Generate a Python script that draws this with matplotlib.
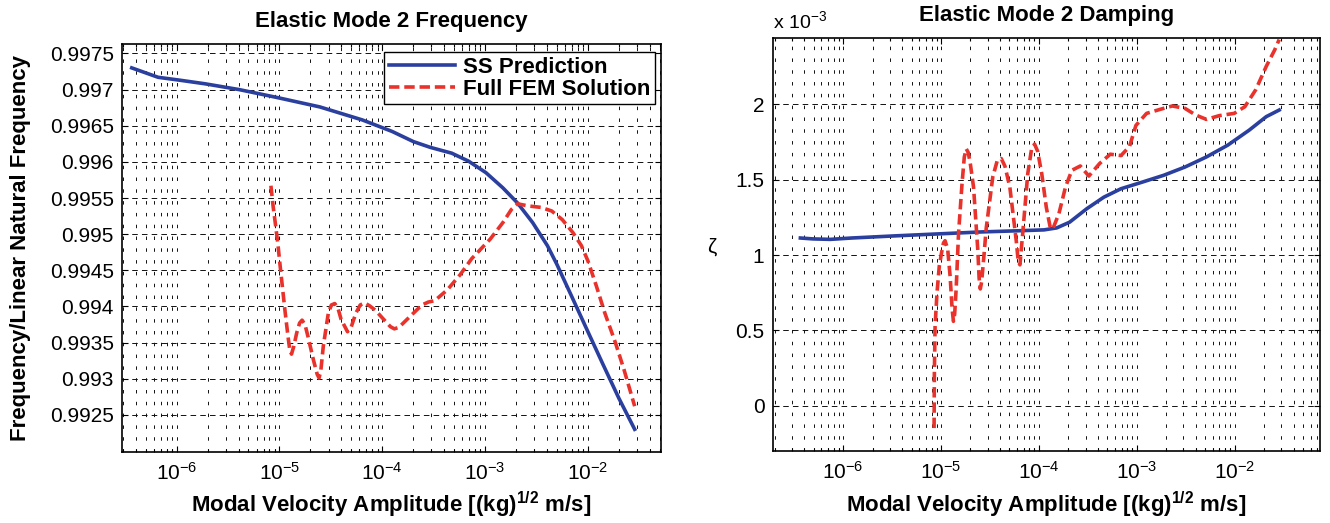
import matplotlib
matplotlib.use("Agg")
import matplotlib.pyplot as plt
from matplotlib.ticker import LogLocator, NullFormatter, FixedLocator, FuncFormatter

plt.rcParams['font.family'] = ['Liberation Sans', 'DejaVu Sans']
plt.rcParams['mathtext.fontset'] = 'custom'
plt.rcParams['mathtext.rm'] = 'Liberation Sans'
plt.rcParams['mathtext.it'] = 'Liberation Sans:italic'
plt.rcParams['mathtext.bf'] = 'Liberation Sans:bold'
plt.rcParams['lines.scale_dashes'] = False

# ---- data ----
# left panel: frequency ratio
ss_freq_x = [3.66e-7, 6.6e-7, 1.07e-6, 1.89e-6, 4.05e-6, 9.5e-6, 2.47e-5, 6.4e-5,
             1.25e-4, 2.01e-4, 2.94e-4, 4.74e-4, 6.9e-4, 1.02e-3, 1.49e-3, 2.07e-3,
             2.9e-3, 4.04e-3, 5.0e-3, 7.0e-3, 1.0e-2, 1.4e-2, 2.0e-2, 2.85e-2]
ss_freq_y = [0.99730, 0.99717, 0.99713, 0.99708, 0.99700, 0.99689, 0.99676, 0.99658,
             0.99642, 0.99628, 0.99620, 0.99612, 0.99601, 0.99585, 0.99564, 0.99543,
             0.99516, 0.99484, 0.99458, 0.99413, 0.99365, 0.99320, 0.99273, 0.99230]

fem_freq_x = [8.26e-6, 8.67e-6, 9.1e-6, 9.7e-6, 1.0e-5, 1.05e-5, 1.13e-5, 1.21e-5,
              1.26e-5, 1.31e-5, 1.38e-5, 1.47e-5, 1.57e-5, 1.66e-5, 1.77e-5, 1.89e-5,
              2.14e-5, 2.33e-5, 2.43e-5, 2.53e-5, 2.67e-5, 2.99e-5, 3.2e-5, 3.45e-5,
              3.7e-5, 3.98e-5, 4.59e-5, 5.0e-5, 5.55e-5, 6.1e-5, 6.72e-5, 7.5e-5,
              8.53e-5, 1.08e-4, 1.2e-4, 1.31e-4, 1.45e-4, 1.74e-4, 2.43e-4, 2.8e-4,
              3.24e-4, 4.3e-4, 5.73e-4, 7.4e-4, 1.12e-3, 1.49e-3, 1.8e-3, 2.07e-3,
              2.63e-3, 3.5e-3, 4.45e-3, 5.64e-3, 7.16e-3, 8.65e-3, 1.0e-2, 1.21e-2,
              1.46e-2, 1.86e-2, 2.25e-2, 2.85e-2]
fem_freq_y = [0.99567, 0.99539, 0.99516, 0.99484, 0.99465, 0.99437, 0.99395, 0.99359,
              0.99340, 0.99334, 0.99345, 0.99363, 0.99377, 0.99381, 0.99375, 0.99359,
              0.99326, 0.99306, 0.99301, 0.99312, 0.99345, 0.99391, 0.99402, 0.99404,
              0.99398, 0.99382, 0.99365, 0.99372, 0.99391, 0.99402, 0.99405, 0.99401,
              0.99395, 0.99379, 0.99372, 0.99369, 0.99371, 0.99382, 0.99402, 0.99406,
              0.99408, 0.99423, 0.99444, 0.99466, 0.99493, 0.99516, 0.99534, 0.99542,
              0.99539, 0.99537, 0.99532, 0.99520, 0.99502, 0.99484, 0.99463, 0.99428,
              0.99391, 0.99349, 0.99312, 0.99262]

# right panel: damping ratio (x 10^-3)
ss_damp_x = [3.66e-7, 4.94e-7, 7.4e-7, 1.22e-6, 3.34e-6, 9.14e-6, 2.5e-5, 6.8e-5,
             1.13e-4, 1.52e-4, 2.06e-4, 3.08e-4, 4.61e-4, 6.9e-4, 1.14e-3, 1.88e-3,
             3.11e-3, 5.15e-3, 8.5e-3, 1.41e-2, 2.1e-2, 2.85e-2]
ss_damp_y = [1.113, 1.107, 1.104, 1.113, 1.127, 1.140, 1.153, 1.162,
             1.167, 1.180, 1.218, 1.307, 1.384, 1.440, 1.484, 1.529,
             1.584, 1.651, 1.729, 1.829, 1.918, 1.962]

fem_damp_x = [8.5e-6, 8.55e-6, 8.7e-6, 9.1e-6, 9.6e-6, 1.01e-5, 1.06e-5, 1.1e-5,
              1.17e-5, 1.24e-5, 1.3e-5, 1.34e-5, 1.38e-5, 1.43e-5, 1.51e-5, 1.64e-5,
              1.73e-5, 1.81e-5, 1.9e-5, 2.0e-5, 2.15e-5, 2.38e-5, 2.45e-5, 2.52e-5,
              2.6e-5, 2.75e-5, 2.9e-5, 3.38e-5, 3.75e-5, 4.13e-5, 4.5e-5, 5.05e-5,
              5.87e-5, 6.15e-5, 6.4e-5, 6.83e-5, 7.7e-5, 8.4e-5, 9.03e-5, 9.7e-5,
              1.07e-4, 1.19e-4, 1.3e-4, 1.38e-4, 1.6e-4, 1.87e-4, 2.17e-4, 2.65e-4,
              3.24e-4, 4.17e-4, 5.36e-4, 6.9e-4, 8.43e-4, 9.8e-4, 1.26e-3, 1.7e-3,
              2.3e-3, 3.11e-3, 4.0e-3, 5.15e-3, 6.97e-3, 9.9e-3, 1.27e-2, 1.64e-2,
              2.1e-2, 2.57e-2, 2.85e-2]
fem_damp_y = [-0.148, 0.195, 0.527, 0.748, 0.925, 1.010, 1.080, 1.095,
              1.040, 0.858, 0.640, 0.560, 0.610, 0.780, 1.140, 1.473,
              1.650, 1.705, 1.680, 1.600, 1.451, 1.029, 0.850, 0.775,
              0.820, 1.000, 1.180, 1.518, 1.625, 1.640, 1.590, 1.451,
              1.096, 0.960, 0.935, 1.140, 1.540, 1.700, 1.736, 1.690,
              1.540, 1.318, 1.190, 1.170, 1.273, 1.451, 1.562, 1.591,
              1.524, 1.607, 1.669, 1.660, 1.720, 1.860, 1.940, 1.965,
              1.989, 1.973, 1.929, 1.900, 1.925, 1.940, 1.984, 2.096,
              2.251, 2.362, 2.430]

freq_ticks = [0.9925, 0.993, 0.9935, 0.994, 0.9945, 0.995, 0.9955, 0.996, 0.9965, 0.997, 0.9975]
damp_ticks = [0, 0.5, 1, 1.5, 2]

blue = '#2b3f9e'
red = '#e8322b'
xlabel = r'Modal Velocity Amplitude [(kg)$^{\mathbf{1/2}}$ m/s]'

fig = plt.figure(figsize=(13.3, 5.23), dpi=100)
ax1 = fig.add_axes([0.0917, 0.1363, 0.4053, 0.7795])
ax2 = fig.add_axes([0.581, 0.1377, 0.4115, 0.7902])


def style_axes(ax):
    ax.set_xscale('log')
    ax.xaxis.set_major_locator(LogLocator(base=10))
    ax.xaxis.set_minor_locator(LogLocator(base=10, subs=range(2, 10), numticks=50))
    ax.xaxis.set_minor_formatter(NullFormatter())
    ax.tick_params(which='both', direction='in', top=True, right=True,
                   labelsize=15, width=0.8, color='black')
    ax.tick_params(which='major', length=4)
    ax.tick_params(which='minor', length=2.5)
    ax.tick_params(axis='x', pad=7)
    ax.tick_params(axis='y', pad=6)
    for s in ax.spines.values():
        s.set_linewidth(1.2)
    ax.grid(True, which='both', axis='x', color='#111111', lw=0.7, ls=(0, (2.5, 6)))
    ax.grid(True, which='major', axis='y', color='#111111', lw=0.7, ls=(0, (4, 3)))
    ax.set_axisbelow(True)
    ax.set_xlabel(xlabel, fontsize=16, fontweight='bold', labelpad=5)


style_axes(ax1)
ax1.plot(ss_freq_x, ss_freq_y, color=blue, lw=2.6, label='SS Prediction')
ax1.plot(fem_freq_x, fem_freq_y, color=red, lw=2.6, dashes=(7.5, 3.5), label='Full FEM Solution')
ax1.set_xlim(2.94e-7, 5.14e-2)
ax1.set_ylim(0.99199, 0.99763)
ax1.yaxis.set_major_locator(FixedLocator(freq_ticks))
ax1.yaxis.set_major_formatter(FuncFormatter(lambda v, p: '%g' % round(v, 4)))
ax1.set_title('Elastic Mode 2 Frequency', fontsize=16, fontweight='bold', pad=12)
ax1.set_ylabel('Frequency/Linear Natural Frequency', fontsize=16, fontweight='bold')
ax1.yaxis.set_label_coords(-0.168, 0.5)
leg = ax1.legend(loc='upper right', bbox_to_anchor=(0.989, 0.98), borderaxespad=0,
                 prop={'size': 16, 'weight': 'bold'}, handlelength=3.0, handletextpad=0.35,
                 labelspacing=0.05, borderpad=0.2, fancybox=False, framealpha=1)
leg.get_frame().set_edgecolor('black')
leg.get_frame().set_linewidth(1.0)

style_axes(ax2)
ax2.plot(ss_damp_x, ss_damp_y, color=blue, lw=2.6)
ax2.plot(fem_damp_x, fem_damp_y, color=red, lw=2.6, dashes=(7.5, 3.5))
ax2.set_xlim(1.91e-7, 7.45e-2)
ax2.set_ylim(-0.30, 2.442)
ax2.yaxis.set_major_locator(FixedLocator(damp_ticks))
ax2.yaxis.set_major_formatter(FuncFormatter(lambda v, p: '%g' % v))
ax2.set_title('Elastic Mode 2 Damping', fontsize=16, fontweight='bold', pad=12)
ax2.set_ylabel('ζ', fontsize=15, rotation=0, ha='center', va='center')
ax2.yaxis.set_label_coords(-0.112, 0.494)
ax2.text(0, 1.024, r'x 10$^{-3}$', transform=ax2.transAxes, ha='left', va='baseline', fontsize=14)

fig.savefig('out.png', dpi=100)
